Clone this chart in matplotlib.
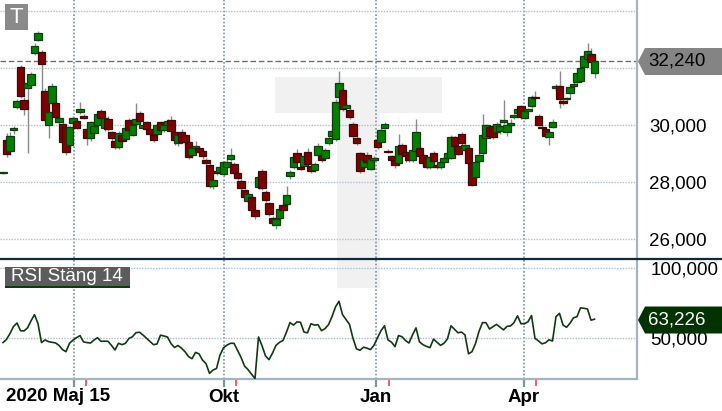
import matplotlib
matplotlib.use("Agg")
import matplotlib.pyplot as plt
from matplotlib.lines import Line2D
from matplotlib.patches import Polygon, Rectangle
import numpy as np

plt.rcParams["font.family"] = ["Liberation Sans", "DejaVu Sans"]

# ---------------------------------------------------------------------------
# Data (daily candles, price in SEK)
# ---------------------------------------------------------------------------
opens = [
    28.30, 29.47, 29.09, 29.82, 30.63, 32.04, 30.88, 31.30, 31.40, 32.53,
    33.00, 32.57, 31.20, 30.00, 30.77, 30.77, 30.10, 30.04, 29.93, 29.30,
    30.07, 30.14, 30.46, 30.32, 29.86, 29.54, 29.72, 30.00, 30.49, 29.90,
    30.21, 29.75, 29.45, 29.23, 29.65, 29.52, 30.18, 29.65, 30.05, 30.42,
    29.90, 30.10, 29.85, 29.65, 29.68, 30.10, 29.82, 30.00, 30.18, 29.75,
    29.37, 29.75, 29.65, 29.40, 28.95, 29.20, 29.19, 29.08, 28.77, 28.59,
    27.85, 28.38, 28.35, 28.27, 28.52, 28.80, 28.62, 28.31, 28.03, 27.71,
    27.33, 27.47, 27.01, 27.82, 28.38, 27.64, 27.25, 26.73, 26.48, 26.73,
    27.20, 27.22, 28.20, 28.52, 29.01, 28.52, 28.56, 29.05, 28.56, 28.42,
    28.94, 28.90, 28.84, 29.37, 29.61, 29.51, 30.99, 31.23, 30.60, 30.52,
    30.04, 29.54, 29.01, 28.52, 28.95, 28.45, 28.78, 29.47, 29.40, 29.90,
    29.10, 28.90, 28.77, 28.66, 29.30, 29.05, 28.94, 28.77, 29.09, 29.20,
    28.95, 28.84, 28.52, 29.01, 28.60, 28.52, 28.70, 28.84, 28.84, 29.58,
    29.26, 29.68, 29.12, 29.19, 28.66, 28.17, 28.73, 29.01, 29.54, 29.93,
    29.97, 29.75, 29.79, 30.10, 29.76, 30.00, 30.28, 30.42, 30.67, 30.25,
    30.50, 30.67, 31.00, 30.32, 29.93, 29.86, 29.58, 29.93, 31.30, 31.37,
    30.85, 30.90, 31.13, 31.38, 31.51, 31.55, 32.04, 32.32, 32.50, 31.83,
]
highs = [
    28.34, 29.72, 29.75, 29.95, 30.90, 32.10, 31.00, 31.55, 31.85, 32.90,
    33.30, 32.65, 31.30, 30.50, 31.48, 30.85, 30.35, 30.10, 29.98, 29.98,
    30.30, 30.20, 30.80, 30.40, 29.95, 30.15, 30.05, 30.45, 30.55, 30.30,
    30.30, 29.80, 29.55, 29.80, 29.70, 29.95, 30.25, 30.10, 30.77, 30.50,
    30.05, 30.15, 29.90, 29.70, 30.05, 30.15, 30.05, 30.20, 30.30, 29.80,
    29.70, 29.85, 29.70, 29.45, 29.25, 29.45, 29.25, 29.15, 28.85, 28.65,
    28.15, 28.45, 28.60, 28.75, 28.80, 29.19, 28.70, 28.35, 28.10, 27.75,
    27.60, 27.55, 27.05, 28.25, 28.45, 27.70, 27.30, 26.80, 26.75, 27.10,
    27.25, 27.85, 28.40, 28.95, 29.15, 28.60, 29.00, 29.20, 28.60, 28.70,
    29.35, 28.95, 29.20, 29.60, 29.85, 30.90, 31.90, 31.30, 30.80, 30.60,
    30.10, 29.60, 29.05, 28.85, 29.05, 28.85, 28.90, 29.50, 29.90, 30.10,
    29.15, 28.95, 28.80, 29.70, 29.35, 29.10, 29.00, 29.20, 30.20, 29.25,
    29.00, 28.90, 28.95, 29.10, 28.65, 28.75, 28.90, 29.05, 29.65, 29.60,
    29.30, 29.75, 29.35, 29.25, 28.70, 28.75, 29.00, 30.40, 30.05, 30.00,
    30.05, 30.10, 30.20, 30.88, 30.05, 30.20, 30.40, 30.60, 30.72, 30.55,
    30.60, 31.05, 31.20, 30.40, 30.00, 29.90, 29.80, 30.20, 31.45, 31.90,
    30.90, 31.00, 31.40, 31.50, 31.90, 32.05, 32.50, 32.89, 32.70, 32.45,
]
lows = [
    28.28, 28.87, 28.95, 29.70, 30.55, 30.95, 30.35, 29.02, 31.30, 32.45,
    32.95, 31.16, 30.10, 29.54, 30.70, 30.20, 30.00, 29.35, 28.95, 29.20,
    29.90, 29.85, 30.40, 30.20, 29.30, 29.45, 29.65, 29.95, 30.15, 29.80,
    29.80, 29.45, 29.15, 29.15, 29.35, 29.45, 29.75, 29.60, 30.00, 30.05,
    29.85, 29.80, 29.60, 29.40, 29.60, 29.75, 29.75, 29.95, 29.70, 29.30,
    29.25, 29.35, 29.30, 28.80, 28.85, 29.15, 29.00, 28.80, 28.60, 27.80,
    27.75, 28.25, 28.30, 28.20, 28.45, 28.75, 28.25, 28.05, 27.70, 27.40,
    27.25, 26.95, 26.70, 27.75, 27.70, 27.30, 26.80, 26.45, 26.35, 26.65,
    26.95, 27.15, 28.10, 28.45, 28.65, 28.40, 28.50, 28.55, 28.30, 28.35,
    28.90, 28.70, 28.80, 29.30, 29.55, 29.45, 30.95, 30.50, 30.55, 30.20,
    29.55, 29.30, 28.30, 28.45, 28.60, 28.40, 28.70, 29.15, 29.35, 29.85,
    29.00, 28.70, 28.50, 28.60, 28.90, 28.70, 28.70, 28.70, 29.05, 28.80,
    28.60, 28.45, 28.45, 28.65, 28.45, 28.45, 28.65, 28.80, 28.80, 29.20,
    28.95, 29.30, 29.05, 28.60, 27.85, 28.00, 28.65, 28.95, 29.50, 29.55,
    29.50, 29.70, 29.70, 30.05, 29.60, 29.95, 30.20, 30.35, 30.20, 30.20,
    30.45, 30.60, 30.90, 29.95, 29.85, 29.55, 29.30, 29.88, 31.20, 30.60,
    30.70, 30.85, 30.95, 31.30, 31.45, 31.50, 31.95, 32.25, 32.15, 31.65,
]
closes = [
    28.33, 28.98, 29.61, 29.90, 30.85, 31.02, 30.56, 31.48, 31.80, 32.78,
    33.24, 32.15, 30.18, 30.46, 31.37, 30.28, 30.26, 29.40, 29.05, 29.93,
    30.25, 29.90, 30.56, 30.26, 29.54, 30.10, 29.96, 30.39, 30.25, 30.25,
    29.86, 29.55, 29.22, 29.72, 29.45, 29.90, 29.83, 30.00, 30.20, 30.14,
    30.00, 29.86, 29.70, 29.48, 30.00, 29.82, 29.99, 30.14, 29.79, 29.47,
    29.65, 29.40, 29.40, 28.87, 29.19, 29.26, 29.05, 28.90, 28.66, 27.85,
    28.06, 28.30, 28.52, 28.70, 28.70, 28.95, 28.31, 28.13, 27.78, 27.47,
    27.57, 27.01, 26.80, 28.17, 27.78, 27.36, 26.87, 26.55, 26.69, 27.04,
    27.01, 27.54, 28.33, 28.87, 28.70, 28.46, 28.91, 28.62, 28.38, 28.63,
    29.26, 28.76, 29.12, 29.54, 29.79, 30.81, 31.48, 30.56, 30.70, 30.28,
    29.61, 29.37, 28.38, 28.77, 28.70, 28.80, 28.85, 29.22, 29.82, 30.03,
    29.04, 28.78, 28.60, 29.26, 28.98, 28.90, 28.77, 29.12, 29.75, 28.90,
    28.66, 28.52, 28.87, 28.73, 28.52, 28.70, 28.84, 29.00, 29.58, 29.26,
    28.99, 29.37, 29.30, 28.66, 27.89, 28.70, 28.95, 29.65, 30.00, 29.62,
    29.58, 30.04, 29.98, 30.17, 30.00, 30.07, 30.35, 30.56, 30.28, 30.49,
    30.55, 30.99, 30.95, 30.00, 29.88, 29.61, 29.75, 30.10, 31.38, 30.92,
    30.78, 30.95, 31.34, 31.44, 31.83, 32.00, 32.43, 32.60, 32.22, 32.24,
]
rsi = [
    46.5, 48.8, 53.0, 58.0, 60.5, 55.0, 54.8, 57.0, 62.0, 66.5,
    60.0, 46.5, 48.4, 47.2, 46.7, 46.3, 44.5, 41.5, 40.0, 46.0,
    48.3, 50.0, 51.5, 47.0, 46.5, 46.2, 48.3, 50.0, 47.4, 47.5,
    47.4, 44.5, 41.2, 46.0, 45.0, 46.0, 49.5, 50.7, 53.6, 53.9,
    51.9, 49.6, 47.2, 45.0, 45.5, 51.8, 51.2, 50.5, 45.8, 43.0,
    44.4, 42.5, 40.0, 36.5, 35.0, 39.5, 38.5, 34.0, 31.5, 24.5,
    26.9, 28.0, 37.6, 42.8, 44.7, 46.0, 46.0, 41.0, 36.0, 29.8,
    27.2, 24.0, 20.8, 50.5, 44.3, 37.0, 34.3, 39.0, 44.5, 46.7,
    48.0, 54.0, 60.8, 59.0, 61.3, 61.0, 54.0, 53.5, 60.0, 59.0,
    59.3, 55.0, 56.5, 59.3, 65.0, 72.0, 76.0, 66.5, 63.0, 59.5,
    49.5, 42.0, 41.0, 43.2, 42.5, 41.5, 44.6, 50.0, 55.0, 58.5,
    48.4, 46.8, 43.6, 51.5, 50.7, 48.0, 46.2, 52.0, 57.0, 47.0,
    45.0, 43.8, 42.9, 49.0, 46.7, 44.5, 46.0, 49.2, 58.5, 56.0,
    53.5, 54.0, 52.0, 38.5, 40.0, 45.8, 54.5, 60.8, 60.7, 56.2,
    57.9, 59.5, 57.5, 55.6, 58.1, 58.4, 60.8, 65.6, 60.0, 59.9,
    61.4, 65.8, 49.5, 47.7, 45.6, 46.4, 48.5, 47.6, 65.0, 67.4,
    59.1, 57.4, 60.3, 64.2, 65.0, 71.3, 71.0, 70.5, 62.5, 63.226,
]
price_ticks = [26, 28, 30, 32, 34]
price_labels = ["26,000", "28,000", "30,000", "", ""]   # 32 sits under the price tag
rsi_ticks = [50, 100]
date_labels = ["", "Okt", "Jan", "Apr"]
first_label = "2020 Maj 15"
indicator_name = "RSI Stäng 14"

# ---------------------------------------------------------------------------
# Layout (pixels of the 722x411 picture)
# ---------------------------------------------------------------------------
W, H = 722, 411
X0, DX = 3.0, 3.5            # pixel of first candle, pixels per candle


def fx(px):
    return px / W


def fy(py):
    return 1 - py / H


def to_idx(px):
    return (px - X0) / DX


fmt = lambda v: f"{v:.3f}".replace(".", ",")

GREEN, GREEN_EDGE = "#008000", "#0f3d0f"
RED, RED_EDGE = "#800000", "#3d0a0a"
BORDER = "#a3b3c6"
VGRID = "#7f93a8"
HGRID = "#b3bfcc"

fig = plt.figure(figsize=(W / 100, H / 100), dpi=100, facecolor="white")

# big watermark "T" behind the panels
for x0, y0, x1, y1 in [(275, 77, 442, 113), (337, 113, 380, 288)]:
    fig.add_artist(Rectangle((fx(x0), fy(y1)), fx(x1 - x0), (y1 - y0) / H,
                             transform=fig.transFigure, color="#f1f1f1",
                             lw=0, zorder=-1))

ax = fig.add_axes([0, fy(258), fx(637), 258 / H])
ax_rsi = fig.add_axes([0, fy(379), fx(637), 120 / H])
for a in (ax, ax_rsi):
    a.set_facecolor("none")
    a.set_xlim(to_idx(0), to_idx(637))

idx = np.arange(len(closes))
o = np.array(opens)
c = np.array(closes)
up = c >= o

# candles
ax.vlines(idx, lows, highs, color="#8a8a8a", lw=1.0, zorder=2)
body = np.maximum(np.abs(c - o), 0.02)
ax.bar(idx, body, bottom=np.minimum(o, c), width=2.1,
       color=np.where(up, GREEN, RED), edgecolor=np.where(up, GREEN_EDGE, RED_EDGE),
       linewidth=0.9, zorder=3)

ax.axhline(closes[-1], color="#6e6e6e", lw=1.0, ls=(0, (4, 2)), zorder=1)

ax.set_ylim(25.32, 34.40)
ax.set_yticks(price_ticks)
ax.set_yticklabels(price_labels)
ax.yaxis.tick_right()
ax.tick_params(axis="y", length=0, pad=8.6, labelsize=13.5)
ax.set_xticks([])
ax.grid(axis="y", color=HGRID, ls=(0, (1, 1)), lw=1.0)

# RSI
ax_rsi.plot(idx, rsi, color="#123a12", lw=1.2, zorder=3)
ax_rsi.set_ylim(20.5, 106.2)
ax_rsi.set_yticks(rsi_ticks)
ax_rsi.set_yticklabels([fmt(v) for v in rsi_ticks])
ax_rsi.yaxis.tick_right()
ax_rsi.tick_params(axis="y", length=0, pad=9.8, labelsize=13.5)
ax_rsi.grid(axis="y", color=HGRID, ls=(0, (1, 1)), lw=1.0)

grid_idx = [to_idx(p) for p in (74, 224, 376, 524)]
red_idx = [to_idx(p) for p in (86, 236, 389, 536)]
ax_rsi.set_xticks(grid_idx)
ax_rsi.set_xticklabels(date_labels, fontweight="bold", fontsize=13.5)
ax_rsi.set_xticks(red_idx, minor=True)
ax_rsi.tick_params(axis="x", which="major", length=5.5, width=1.6, color=VGRID, pad=2)
ax_rsi.tick_params(axis="x", which="minor", length=5.0, width=1.4, color="#ff5a5a")

for a in (ax, ax_rsi):
    for g in grid_idx:
        a.axvline(g, color=VGRID, ls=(0, (1, 1.2)), lw=1.2, zorder=1)
    for s in ("top", "left"):
        a.spines[s].set_visible(False)
    a.spines["right"].set_color(BORDER)
    a.spines["right"].set_linewidth(1.6)
ax.spines["bottom"].set_visible(False)
ax_rsi.spines["bottom"].set_color(BORDER)
ax_rsi.spines["bottom"].set_linewidth(1.6)

fig.text(fx(6), fy(396), first_label, fontweight="bold", fontsize=13.5,
         ha="left", va="center")

# panel separator
fig.add_artist(Line2D([0, 1], [fy(258.5), fy(258.5)], color="#0f2a3d", lw=1.6,
                      transform=fig.transFigure))


# value tags on the right
def tag(py, text, face, txt_color):
    pts = [(638, py), (645, py - 13.5), (722, py - 13.5), (722, py + 13.5), (645, py + 13.5)]
    fig.add_artist(Polygon([(fx(x), fy(y)) for x, y in pts], closed=True,
                           transform=fig.transFigure, color=face, lw=0, zorder=5))
    fig.text(fx(648), fy(py), text, color=txt_color, fontsize=13.5,
             ha="left", va="center", zorder=6)


tag(61.5, fmt(closes[-1]), "#848484", "black")
tag(320, fmt(rsi[-1]), "#003300", "white")

# instrument badge and indicator label
fig.add_artist(Rectangle((fx(5), fy(30)), fx(23), 26 / H, transform=fig.transFigure,
                         color="#8a8a8a", lw=0, zorder=5))
fig.text(fx(16.5), fy(17.5), "T", color="white", fontsize=16, ha="center",
         va="center", zorder=6)
fig.add_artist(Rectangle((fx(5), fy(286)), fx(125), 19 / H, transform=fig.transFigure,
                         color="#5c5c5c", lw=0, zorder=5))
fig.add_artist(Rectangle((fx(5), fy(288)), fx(125), 2 / H, transform=fig.transFigure,
                         color="#0d3d0d", lw=0, zorder=5))
fig.text(fx(11), fy(276.5), indicator_name, color="white", fontsize=13.5,
         ha="left", va="center", zorder=6)

fig.savefig("out.png", dpi=100, facecolor=fig.get_facecolor())
